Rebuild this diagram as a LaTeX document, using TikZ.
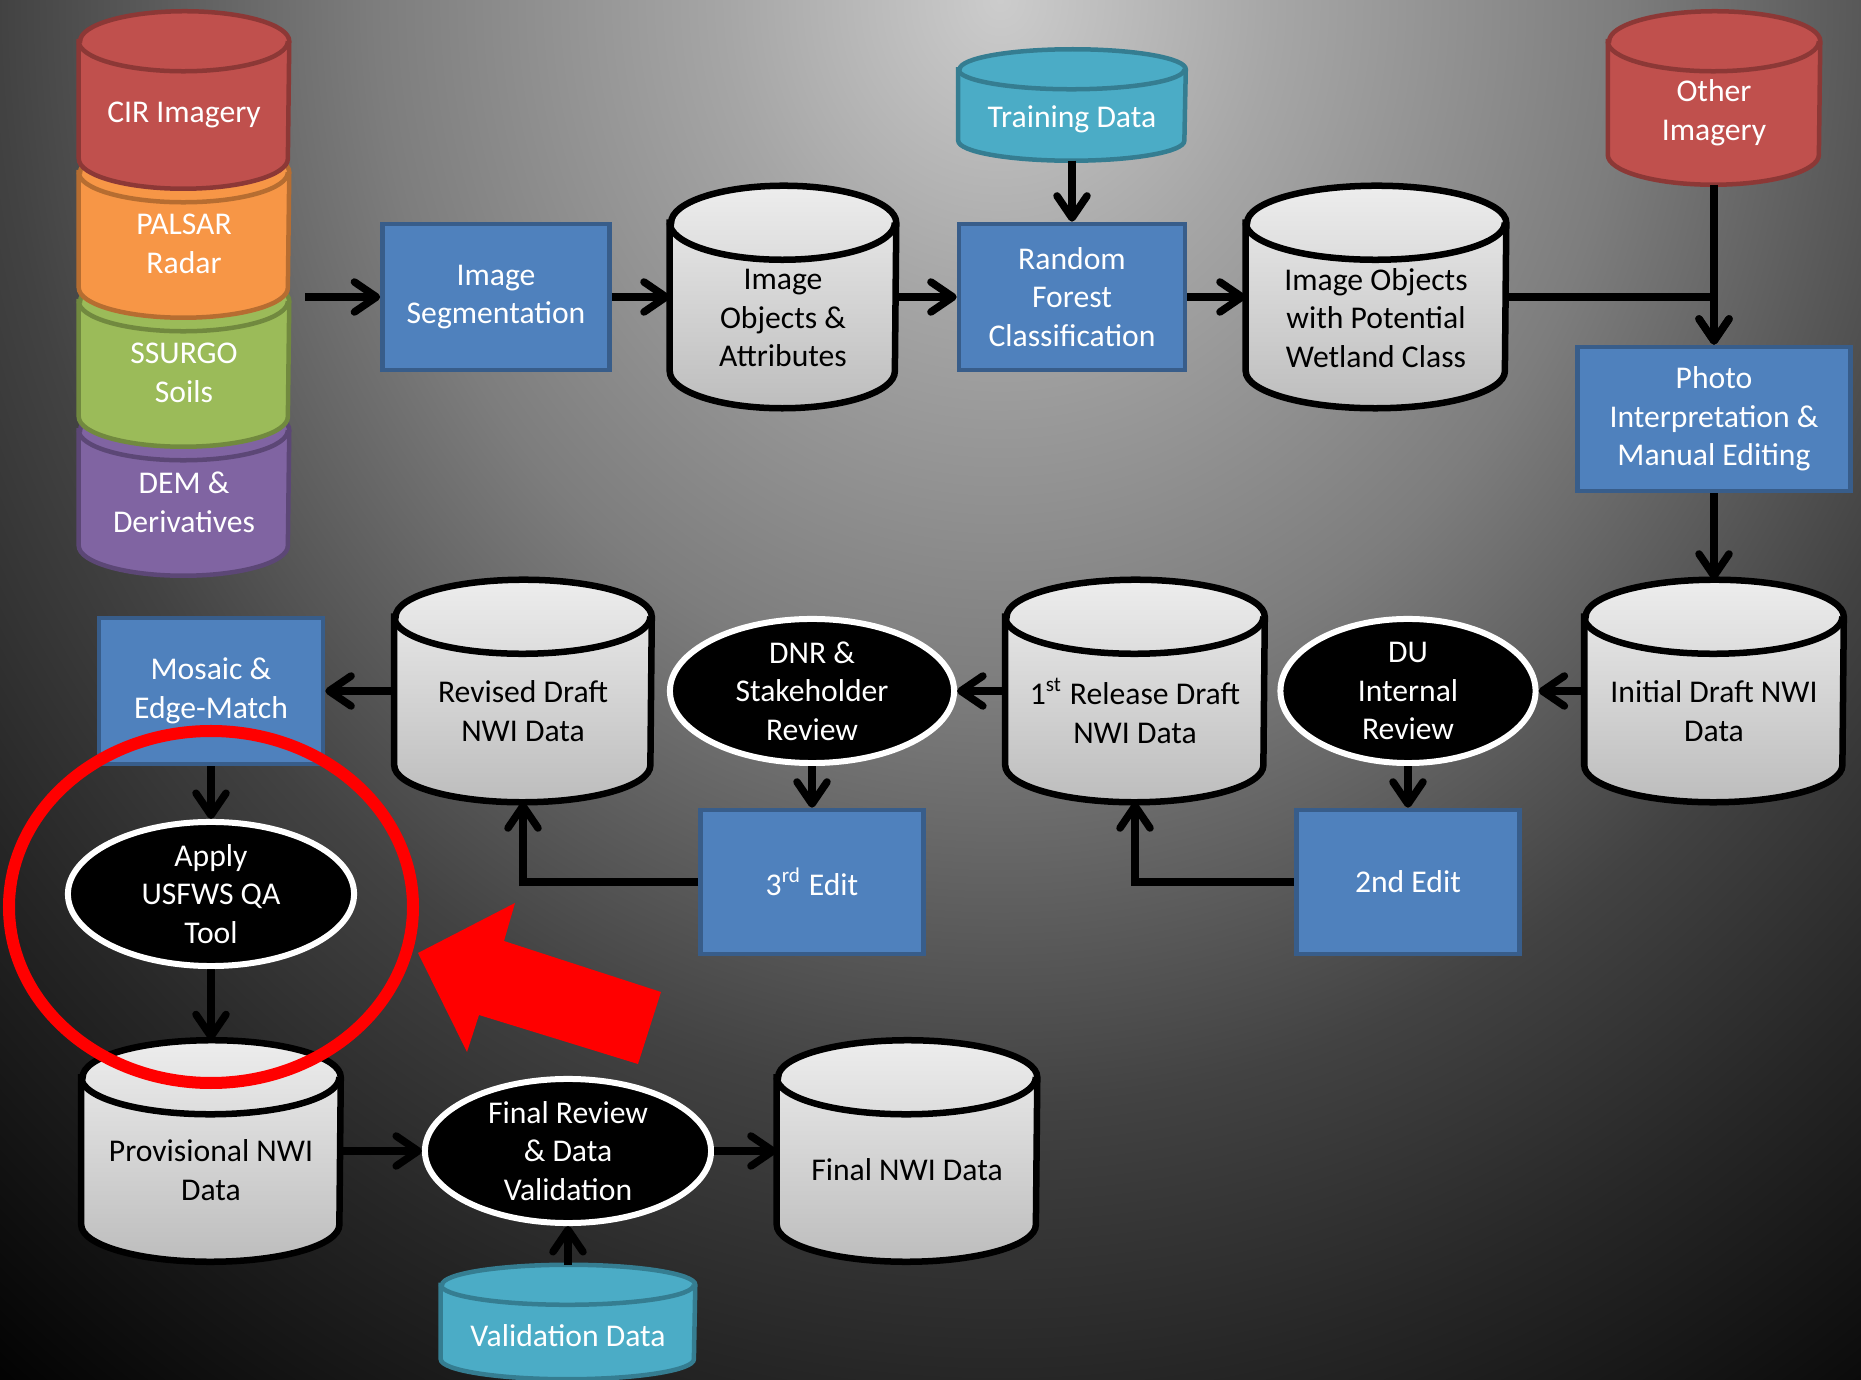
\documentclass[tikz,border=0pt]{standalone}
\usepackage{fontspec}
\setmainfont{Carlito}
\usetikzlibrary{arrows.meta,shapes.geometric}

\definecolor{cirred}{HTML}{C0504D}
\definecolor{ciredge}{HTML}{8C3836}
\definecolor{palsarorange}{HTML}{F79646}
\definecolor{palsaredge}{HTML}{B66D31}
\definecolor{ssurgogreen}{HTML}{9BBB59}
\definecolor{ssurgoedge}{HTML}{71893F}
\definecolor{dempurple}{HTML}{8064A2}
\definecolor{demedge}{HTML}{5C4776}
\definecolor{feedcyan}{HTML}{4BACC6}
\definecolor{feededge}{HTML}{357D91}
\definecolor{taskblue}{HTML}{4F81BD}
\definecolor{taskedge}{HTML}{385D8A}
\definecolor{storetop}{HTML}{EDEDED}
\definecolor{storebottom}{HTML}{BDBDBD}
\definecolor{alert}{HTML}{FF0000}

\pgfdeclareradialshading{backdrop}{\pgfpoint{0bp}{0bp}}{color(0bp)=(black!20); color(2.75bp)=(black!35); color(6.25bp)=(black!51); color(10bp)=(black!74); color(12.5bp)=(black!85); color(16.25bp)=(black); color(50bp)=(black)}
\newcommand\boxfont{\fontsize{9}{11}\selectfont}
% cylinder round a named node: node, half width, cap depth, fill style, line style
\newcommand\drawcan[5]{%
  \path[#4, #5] ([yshift=-#3]#1.north west) -- ([yshift=#3]#1.south west)
    arc[start angle=180, end angle=360, x radius=#2, y radius=#3]
    -- ([yshift=-#3]#1.north east)
    arc[start angle=0, end angle=180, x radius=#2, y radius=#3] -- cycle;
  \draw[#5] ([yshift=-#3]#1.north west)
    arc[start angle=180, end angle=360, x radius=#2, y radius=#3];
}

\tikzset{
  flow/.style={line width=0.075cm, -{Straight Barb[length=0.22cm, width=0.3cm, round]}},
  task/.style={rectangle, draw=taskedge, fill=taskblue, line width=0.045cm, text=white, align=center, font=\boxfont, inner sep=0pt},
  review/.style={ellipse, draw=white, fill=black, line width=0.06cm, text=white, align=center, font=\boxfont, inner sep=0pt, minimum height=1.44cm},
  can/.style={rectangle, inner sep=0pt},
  cantext/.style={align=center, font=\boxfont, inner sep=0pt},
  storefill/.style={top color=storetop, bottom color=storebottom},
  storeline/.style={draw=black, line width=0.065cm},
}

\begin{document}
\begin{tikzpicture}[x=0.01cm, y=-0.01cm]
  % backdrop
  \useasboundingbox (0,0) rectangle (1861,1380);
  \begin{scope}
    \clip (0,0) rectangle (1861,1380);
    \shade[shading=backdrop] (1000,0) ellipse (2500 and 2760);
  \end{scope}

  % input layers
  \node[can, minimum width=2.09cm, minimum height=1.74cm] (dem) at (184,488) {};
  \node[can, minimum width=2.09cm, minimum height=1.74cm] (ssurgo) at (184,359) {};
  \node[can, minimum width=2.09cm, minimum height=1.74cm] (palsar) at (184,230) {};
  \node[can, minimum width=2.09cm, minimum height=1.76cm] (cir) at (184,100) {};
  \drawcan{dem}{1.045cm}{0.3cm}{fill=dempurple}{draw=demedge, line width=0.045cm}
  \drawcan{ssurgo}{1.045cm}{0.3cm}{fill=ssurgogreen}{draw=ssurgoedge, line width=0.045cm}
  \drawcan{palsar}{1.045cm}{0.3cm}{fill=palsarorange}{draw=palsaredge, line width=0.045cm}
  \drawcan{cir}{1.045cm}{0.3cm}{fill=cirred}{draw=ciredge, line width=0.045cm}
  \node[cantext, text=white] (dem-t) at (184,502) {DEM \&\\Derivatives};
  \node[cantext, text=white] (ssurgo-t) at (184,373) {SSURGO\\Soils};
  \node[cantext, text=white] (palsar-t) at (184,244) {PALSAR\\Radar};
  \node[cantext, text=white] (cir-t) at (184,115) {CIR Imagery};
  \coordinate (stackout) at (305,297);

  % top row
  \node[task, minimum width=2.27cm, minimum height=1.46cm] (imgseg) at (496,297) {Image\\Segmentation};
  \node[can, minimum width=2.25cm, minimum height=2.21cm] (imgobj) at (783,297) {};
  \drawcan{imgobj}{1.125cm}{0.37cm}{storefill}{storeline}
  \node[cantext] (imgobj-t) at (783,318) {Image\\Objects \&\\Attributes};
  \node[can, minimum width=2.26cm, minimum height=1.10cm] (training) at (1072,105) {};
  \drawcan{training}{1.13cm}{0.2cm}{fill=feedcyan}{draw=feededge, line width=0.045cm}
  \node[cantext, text=white] (training-t) at (1072,119) {Training Data};
  \node[task, minimum width=2.26cm, minimum height=1.46cm] (forest) at (1072,297) {Random\\Forest\\Classification};
  \node[can, minimum width=2.59cm, minimum height=2.21cm] (wetland) at (1376,297) {};
  \drawcan{wetland}{1.295cm}{0.37cm}{storefill}{storeline}
  \node[cantext] (wetland-t) at (1376,318) {Image Objects\\with Potential\\Wetland Class};
  \node[can, minimum width=2.11cm, minimum height=1.72cm] (other) at (1714,98) {};
  \drawcan{other}{1.055cm}{0.3cm}{fill=cirred}{draw=ciredge, line width=0.045cm}
  \node[cantext, text=white] (other-t) at (1714,113) {Other\\Imagery};
  \node[task, minimum width=2.73cm, minimum height=1.44cm] (photo) at (1714,419) {Photo\\Interpretation \&\\Manual Editing};

  % middle row
  \node[can, minimum width=2.58cm, minimum height=2.21cm] (initial) at (1714,691) {};
  \drawcan{initial}{1.29cm}{0.37cm}{storefill}{storeline}
  \node[cantext] (initial-t) at (1714,711) {Initial Draft NWI\\Data};
  \node[review, minimum width=2.55cm] (du) at (1408,691) {DU\\Internal\\Review};
  \node[task, minimum width=2.23cm, minimum height=1.44cm] (edit2) at (1408,882) {2nd Edit};
  \node[can, minimum width=2.58cm, minimum height=2.21cm] (release) at (1135,691) {};
  \drawcan{release}{1.29cm}{0.37cm}{storefill}{storeline}
  \node[cantext] (release-t) at (1135,711) {1\textsuperscript{st} Release Draft\\NWI Data};
  \node[review, minimum width=2.84cm] (dnr) at (812,691) {DNR \&\\Stakeholder\\Review};
  \node[task, minimum width=2.23cm, minimum height=1.44cm] (edit3) at (812,882) {3\textsuperscript{rd} Edit};
  \node[can, minimum width=2.56cm, minimum height=2.21cm] (revised) at (523,691) {};
  \drawcan{revised}{1.28cm}{0.37cm}{storefill}{storeline}
  \node[cantext] (revised-t) at (523,711) {Revised Draft\\NWI Data};
  \node[task, minimum width=2.24cm, minimum height=1.46cm] (mosaic) at (211,691) {Mosaic \&\\Edge-Match};
  \node[review, minimum width=2.86cm] (apply) at (211,894) {Apply\\USFWS QA\\Tool};

  % bottom row
  \node[can, minimum width=2.58cm, minimum height=2.2cm] (prov) at (211,1151) {};
  \drawcan{prov}{1.29cm}{0.37cm}{storefill}{storeline}
  \node[cantext] (prov-t) at (211,1170) {Provisional NWI\\Data};
  \node[review, minimum width=2.86cm] (finrev) at (568,1151) {Final Review\\\& Data\\Validation};
  \node[can, minimum width=2.59cm, minimum height=2.2cm] (finnwi) at (907,1151) {};
  \drawcan{finnwi}{1.295cm}{0.37cm}{storefill}{storeline}
  \node[cantext] (finnwi-t) at (907,1170) {Final NWI Data};
  \node[can, minimum width=2.53cm, minimum height=1.13cm] (valid) at (568,1322) {};
  \drawcan{valid}{1.265cm}{0.2cm}{fill=feedcyan}{draw=feededge, line width=0.045cm}
  \node[cantext, text=white] (valid-t) at (568,1336) {Validation Data};

  % connectors
  \draw[flow] (stackout) -- (imgseg);
  \draw[flow] (imgseg) -- (imgobj);
  \draw[flow] (imgobj) -- (forest);
  \draw[flow] (training) -- (forest);
  \draw[flow] (forest) -- (wetland);
  \draw[flow] (wetland) -| (photo.north);
  \draw[flow] (other) -- (photo);
  \draw[flow] (photo) -- (initial);
  \draw[flow] (initial) -- (du);
  \draw[flow] (du) -- (edit2);
  \draw[flow] (edit2) -| (release);
  \draw[flow] (release) -- (dnr);
  \draw[flow] (dnr) -- (edit3);
  \draw[flow] (edit3) -| (revised);
  \draw[flow] (revised) -- (mosaic);
  \draw[flow] (mosaic) -- (apply);
  \draw[flow] (apply) -- (prov);
  \draw[flow] (prov) -- (finrev);
  \draw[flow] (finrev) -- (finnwi);
  \draw[flow] (valid) -- (finrev);

  % highlight
  \draw[alert, line width=0.12cm] (211,907) ellipse (202 and 176);
  \fill[alert] (418,953) -- (515,903) -- (504,941) -- (661,992) -- (638,1064) -- (479,1015) -- (467,1052) -- cycle;
\end{tikzpicture}
\end{document}
